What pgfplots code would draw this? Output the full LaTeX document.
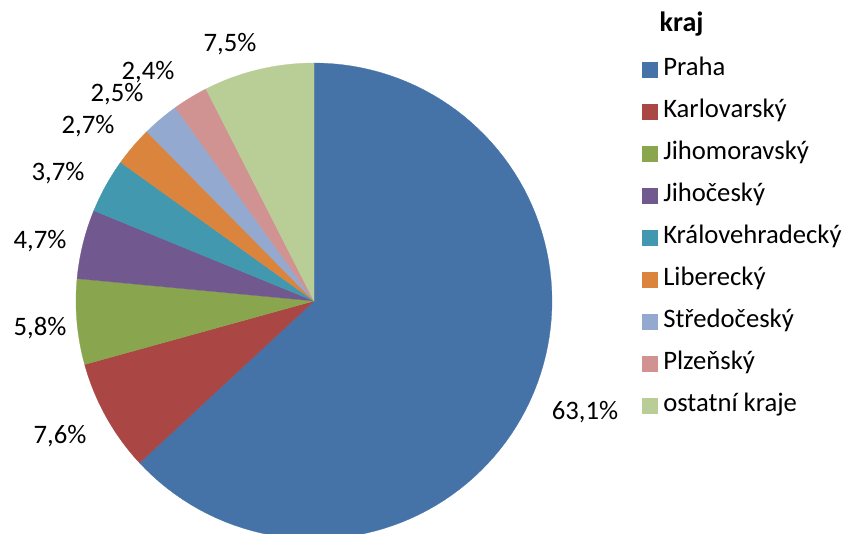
\documentclass[border=0pt]{standalone}
\usepackage{pgfplots}
\pgfplotsset{compat=1.18}
\usepackage{fontspec}
\setmainfont{Carlito}
\definecolor{cA}{HTML}{4572A7}
\definecolor{cB}{HTML}{AA4643}
\definecolor{cC}{HTML}{89A54E}
\definecolor{cD}{HTML}{71588F}
\definecolor{cE}{HTML}{4198AF}
\definecolor{cF}{HTML}{DB843D}
\definecolor{cG}{HTML}{93A9CF}
\definecolor{cH}{HTML}{D19392}
\definecolor{cI}{HTML}{B9CD96}
\newcommand\lblfont{\fontsize{20}{23}\selectfont}
\xdef\cum{0}
\newcommand\slice[3]{%
  \pgfmathsetmacro\angA{90-3.6*\cum}%
  \pgfmathsetmacro\angB{90-3.6*(\cum+#1)}%
  \edef\tmp{\noexpand\addplot[fill=#2, draw=#2, line width=0.2pt, domain=\angB:\angA, samples=100] ({238*cos(x)},{238*sin(x)}) -- (axis cs:0,0) -- cycle;}%
  \tmp
  \addlegendentry{#3}%
  \pgfmathsetmacro\newcum{\cum+#1}%
  \xdef\cum{\newcum}%
}
\begin{document}
\begin{tikzpicture}
\begin{axis}[
  scale only axis, width=636pt, height=399.75pt,
  xmin=-314, xmax=534, ymin=-232, ymax=301,
  axis lines=none,
  legend style={at={(axis cs:328,243.7)}, anchor=north west, draw=none, fill=none,
    inner sep=0pt, outer sep=0pt, font=\lblfont, row sep=13.5pt, column sep=4.5pt,
    nodes={inner sep=0pt, text height=14pt, text depth=4pt}},
  legend cell align=left,
  legend image code/.code={\fill[#1] (0pt,-5.625pt) rectangle (11.25pt,5.625pt);},
]
\slice{63.1}{cA}{Praha}
\slice{7.6}{cB}{Karlovarský}
\slice{5.8}{cC}{Jihomoravský}
\slice{4.7}{cD}{Jihočeský}
\slice{3.7}{cE}{Královehradecký}
\slice{2.7}{cF}{Liberecký}
\slice{2.5}{cG}{Středočeský}
\slice{2.4}{cH}{Plzeňský}
\slice{7.5}{cI}{ostatní kraje}
\node[anchor=base west, font=\bfseries\fontsize{21}{24}\selectfont] at (axis cs:341,269) {kraj};
\node[anchor=base, font=\lblfont] at (axis cs:271,-118.3) {63,1\%};
\node[anchor=base, font=\lblfont] at (axis cs:-254,-142.3) {7,6\%};
\node[anchor=base, font=\lblfont] at (axis cs:-274,-34) {5,8\%};
\node[anchor=base, font=\lblfont] at (axis cs:-274,53) {4,7\%};
\node[anchor=base, font=\lblfont] at (axis cs:-256,120.3) {3,7\%};
\node[anchor=base, font=\lblfont] at (axis cs:-226,167.7) {2,7\%};
\node[anchor=base, font=\lblfont] at (axis cs:-197,199.3) {2,5\%};
\node[anchor=base, font=\lblfont] at (axis cs:-166,221) {2,4\%};
\node[anchor=base, font=\lblfont] at (axis cs:-84,249.3) {7,5\%};
\end{axis}
\pgfresetboundingbox
\path[use as bounding box] (current axis.south west) rectangle (current axis.north east);
\end{tikzpicture}
\end{document}
